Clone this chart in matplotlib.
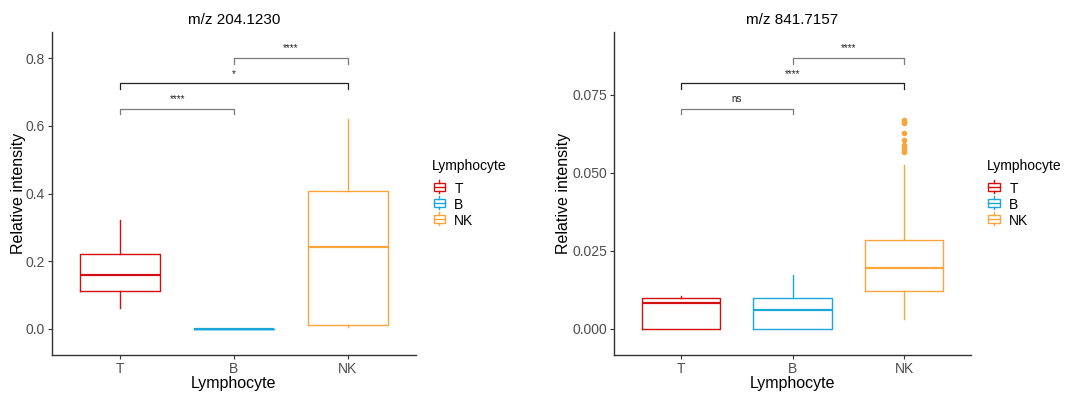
import matplotlib
matplotlib.use("Agg")
import matplotlib.pyplot as plt
from matplotlib.legend_handler import HandlerBase
from matplotlib.patches import Rectangle
from matplotlib.lines import Line2D

plt.rcParams['font.family'] = ['Liberation Sans', 'DejaVu Sans']

groups = ["T", "B", "NK"]
colors = ["#D40F0F", "#1AA7D9", "#FBA43A"]

# panel 1: m/z 204.1230
p1_whislo = [0.062, 0.0, 0.005]
p1_q1 = [0.112, 0.0, 0.012]
p1_med = [0.160, 0.0, 0.241]
p1_q3 = [0.222, 0.0, 0.407]
p1_whishi = [0.322, 0.0, 0.620]
p1_fliers = [[], [], []]
p1_brackets = [(1, 2, 0.651, "****"), (1, 3, 0.726, "*"), (2, 3, 0.800, "****")]

# panel 2: m/z 841.7157
p2_whislo = [0.0, 0.0, 0.0030]
p2_q1 = [0.0, 0.0, 0.0120]
p2_med = [0.0082, 0.0059, 0.0196]
p2_q3 = [0.0100, 0.0100, 0.0284]
p2_whishi = [0.0106, 0.0171, 0.0524]
p2_fliers = [[], [], [0.0669, 0.0664, 0.0660, 0.0628, 0.0605, 0.0590, 0.0584, 0.0573, 0.0566]]
p2_brackets = [(1, 2, 0.0706, "ns"), (1, 3, 0.0787, "****"), (2, 3, 0.0868, "****")]


class BoxKey(HandlerBase):
    def __init__(self, color):
        super().__init__()
        self.color = color

    def create_artists(self, legend, orig, xd, yd, w, h, fs, trans):
        cx = xd + w / 2
        bw = w * 0.8
        r = Rectangle((cx - bw / 2, yd + h * 0.15), bw, h * 0.7, fc="white",
                      ec=self.color, lw=1.0, transform=trans)
        m = Line2D([cx - bw / 2, cx + bw / 2], [yd + h / 2] * 2, color=self.color, lw=1.0, transform=trans)
        wt = Line2D([cx, cx], [yd + h * 0.85, yd + h * 1.05], color=self.color, lw=1.0, transform=trans)
        wb = Line2D([cx, cx], [yd - h * 0.05, yd + h * 0.15], color=self.color, lw=1.0, transform=trans)
        return [r, m, wt, wb]


def draw_panel(ax, title, whislo, q1, med, q3, whishi, fliers, brackets, ylim, yticks, fmt, dtick, ylab_x):
    stats = []
    for i in range(3):
        stats.append(dict(whislo=whislo[i], q1=q1[i], med=med[i], q3=q3[i],
                          whishi=whishi[i], fliers=fliers[i]))
    for i in range(3):
        c = colors[i]
        ax.bxp([stats[i]], positions=[i + 1], widths=0.7, showcaps=False,
               boxprops=dict(color=c, lw=1.0),
               medianprops=dict(color=c, lw=1.6),
               whiskerprops=dict(color=c, lw=1.0),
               flierprops=dict(marker="o", markersize=3, markerfacecolor=c,
                               markeredgecolor=c))
    for a, b, y, lab in brackets:
        col = "#222222" if (a, b) == (1, 3) else "#7a7a7a"
        ax.plot([a, a, b, b], [y - dtick, y, y, y - dtick], color=col, lw=0.9)
        ax.text((a + b) / 2, y + dtick * 0.8, lab, ha="center", va="bottom", fontsize=7, color="#222222")
    ax.set_xlim(0.4, 3.6)
    ax.set_ylim(*ylim)
    ax.set_yticks(yticks)
    ax.set_yticklabels([fmt % v for v in yticks])
    ax.set_xticks([1, 2, 3])
    ax.set_xticklabels(groups)
    ax.set_title(title, fontsize=11, pad=6)
    ax.set_xlabel("Lymphocyte", fontsize=11.5, labelpad=0)
    ax.set_ylabel("Relative intensity", fontsize=11.5)
    ax.yaxis.set_label_coords(ylab_x, 0.5)
    for s in ["top", "right"]:
        ax.spines[s].set_visible(False)
    for s in ["left", "bottom"]:
        ax.spines[s].set_color("#333333")
        ax.spines[s].set_linewidth(1.0)
    ax.tick_params(axis="both", colors="#333333", labelcolor="#4D4D4D", labelsize=10, length=3, pad=2)
    handles = [Rectangle((0, 0), 1, 1) for _ in range(3)]
    hmap = {handles[i]: BoxKey(colors[i]) for i in range(3)}
    leg = ax.legend(handles, groups, handler_map=hmap, title="Lymphocyte", loc="center left",
                    bbox_to_anchor=(1.01, 0.5), frameon=False, fontsize=10, title_fontsize=10,
                    handlelength=1.0, handleheight=0.9, handletextpad=0.6, labelspacing=0.15)
    leg._legend_box.align = "left"
    leg._legend_box.sep = 7


fig = plt.figure(figsize=(10.68, 3.96), dpi=100)
ax1 = fig.add_axes([0.0487, 0.1035, 0.3408, 0.8155])
ax2 = fig.add_axes([0.5749, 0.1035, 0.3343, 0.8155])

draw_panel(ax1, "m/z 204.1230", p1_whislo, p1_q1, p1_med, p1_q3, p1_whishi, p1_fliers,
           p1_brackets, (-0.077, 0.877), [0.0, 0.2, 0.4, 0.6, 0.8], "%.1f", 0.017, -0.072)
draw_panel(ax2, "m/z 841.7157", p2_whislo, p2_q1, p2_med, p2_q3, p2_whishi, p2_fliers,
           p2_brackets, (-0.0084, 0.0951), [0.0, 0.025, 0.05, 0.075], "%.3f", 0.0018, -0.121)

fig.savefig("out.png", dpi=100)
